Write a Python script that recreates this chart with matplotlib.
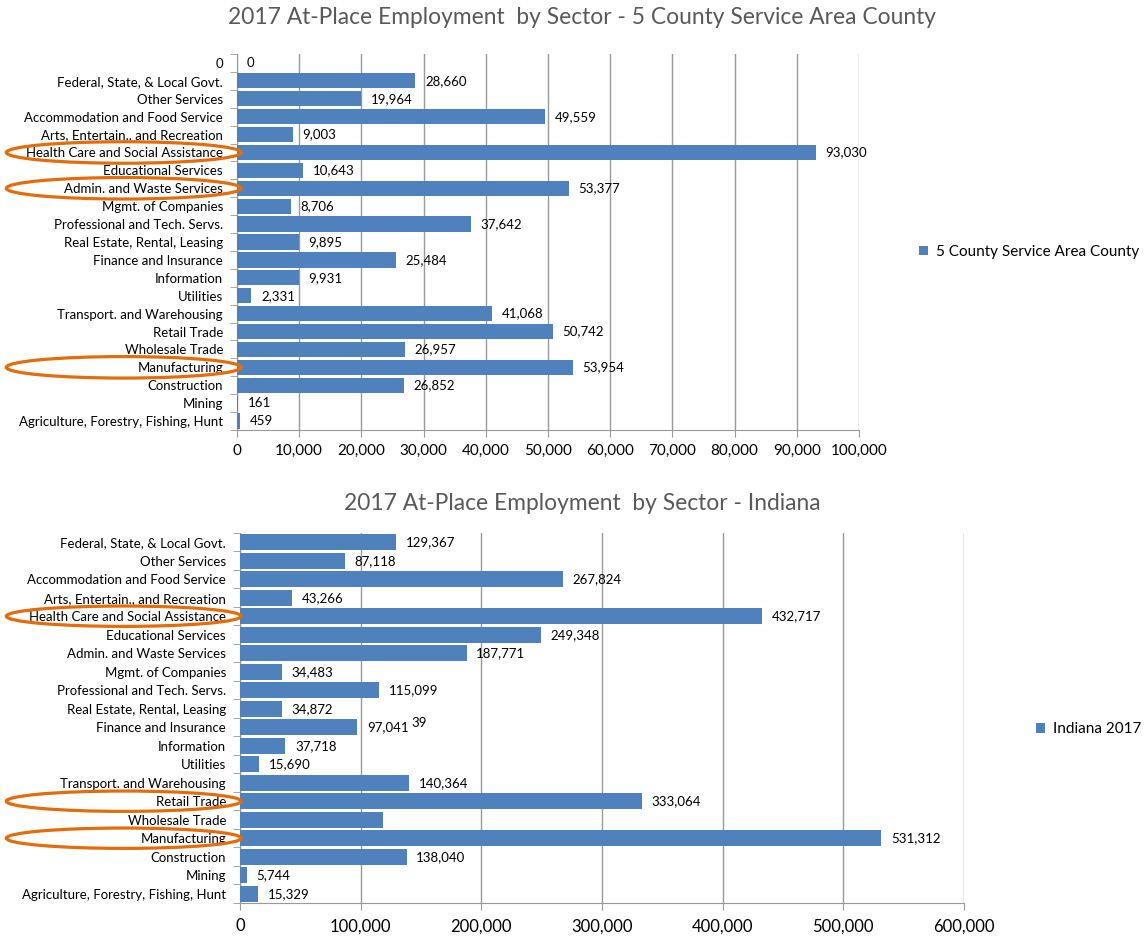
import matplotlib.pyplot as plt
from matplotlib.patches import Ellipse
from matplotlib.ticker import FuncFormatter, FixedLocator
import matplotlib.transforms as mtransforms

plt.rcParams['font.family'] = ['Lato', 'DejaVu Sans']

sectors = ["Agriculture, Forestry, Fishing, Hunt", "Mining", "Construction", "Manufacturing",
           "Wholesale Trade", "Retail Trade", "Transport. and Warehousing", "Utilities",
           "Information", "Finance and Insurance", "Real Estate, Rental, Leasing",
           "Professional and Tech. Servs.", "Mgmt. of Companies", "Admin. and Waste Services",
           "Educational Services", "Health Care and Social Assistance",
           "Arts, Entertain., and Recreation", "Accommodation and Food Service",
           "Other Services", "Federal, State, & Local Govt."]

county_cats = sectors + ["0"]
county_vals = [459, 161, 26852, 53954, 26957, 50742, 41068, 2331, 9931, 25484, 9895,
               37642, 8706, 53377, 10643, 93030, 9003, 49559, 19964, 28660, 0]

indiana_vals = [15329, 5744, 138040, 531312, 118500, 333064, 140364, 15690, 37718, 97041,
                34872, 115099, 34483, 187771, 249348, 432717, 43266, 267824, 87118, 129367]
indiana_shown = [True] * 20
indiana_shown[4] = False  # Wholesale Trade has no data label

county_circled = ["Health Care and Social Assistance", "Admin. and Waste Services", "Manufacturing"]
indiana_circled = ["Health Care and Social Assistance", "Retail Trade", "Manufacturing"]

BAR = "#4F81BD"
GRID = "#999999"
ORANGE = "#E46C0A"
TXT = "#000000"

fig = plt.figure(figsize=(11.46, 9.36), dpi=100)
ax1 = fig.add_axes([0.2068, 0.5406, 0.5428, 0.4017])
ax2 = fig.add_axes([0.2094, 0.0353, 0.6318, 0.3953])


def style(ax, cats, vals, xmax, step, shown, xsize, xpad):
    n = len(cats)
    pos = list(range(n))
    ax.barh(pos, vals, height=0.85, color=BAR, zorder=3)
    ax.set_ylim(-0.5, n - 0.5)
    ax.set_xlim(0, xmax)
    ax.set_yticks(pos)
    ax.set_yticklabels(cats, fontsize=9.5)
    ax.yaxis.set_minor_locator(FixedLocator([i - 0.5 for i in range(n + 1)]))
    ax.tick_params(axis='y', which='major', length=0, pad=10)
    ax.tick_params(axis='y', which='minor', length=5, color=GRID, direction='out')
    ax.set_xticks(list(range(0, xmax + 1, step)))
    ax.xaxis.set_major_formatter(FuncFormatter(lambda v, p: f"{int(v):,}"))
    ax.tick_params(axis='x', length=5, color=GRID, labelsize=xsize, pad=xpad)
    ax.grid(axis='x', color=GRID, linewidth=1, zorder=0)
    for s in ['top', 'right']:
        ax.spines[s].set_visible(False)
    ax.spines['left'].set_color(GRID)
    ax.spines['bottom'].set_color(GRID)
    for i, v in enumerate(vals):
        if shown[i]:
            ax.annotate(f"{v:,}", (v, i), xytext=(7, 0), textcoords='offset points',
                        va='center', ha='left', fontsize=9.5, color=TXT, zorder=4)


style(ax1, county_cats, county_vals, 100000, 10000, [True] * 21, 11, 5)
style(ax2, sectors, indiana_vals, 600000, 100000, indiana_shown, 12, 6)

# stray partially hidden label next to Finance and Insurance
ax2.annotate("39", (indiana_vals[9], 9), xytext=(39, 3), textcoords='offset points',
             va='center', ha='left', fontsize=9.5, color=TXT)

fig.text(0.508, 0.981, "2017 At-Place Employment  by Sector - 5 County Service Area County",
         fontsize=16.4, color="#595959", ha='center', va='center')
fig.text(0.508, 0.4626, "2017 At-Place Employment  by Sector - Indiana",
         fontsize=16.4, color="#595959", ha='center', va='center')

# legends
h1 = ax1.barh([0], [0], color=BAR, label="5 County Service Area County")
fig.legend(handles=[h1], loc='center left', bbox_to_anchor=(0.79, 0.731), frameon=False,
           fontsize=11, handlelength=0.6, handleheight=0.6, handletextpad=0.5)
h2 = ax2.barh([0], [0], color=BAR, label="Indiana 2017")
fig.legend(handles=[h2], loc='center left', bbox_to_anchor=(0.892, 0.221), frameon=False,
           fontsize=11, handlelength=0.6, handleheight=0.6, handletextpad=0.5)

# orange highlight ellipses around selected category labels
for ax, cats, names, h in [(ax1, county_cats, county_circled, 1.2),
                           (ax2, sectors, indiana_circled, 1.1)]:
    tr = mtransforms.blended_transform_factory(fig.transFigure, ax.transData)
    for name in names:
        idx = cats.index(name)
        e = Ellipse((0.108, idx), 0.205, h, transform=tr, fill=False,
                    edgecolor=ORANGE, linewidth=2.3, clip_on=False, zorder=10)
        fig.add_artist(e)

fig.savefig("out.png", dpi=100)
